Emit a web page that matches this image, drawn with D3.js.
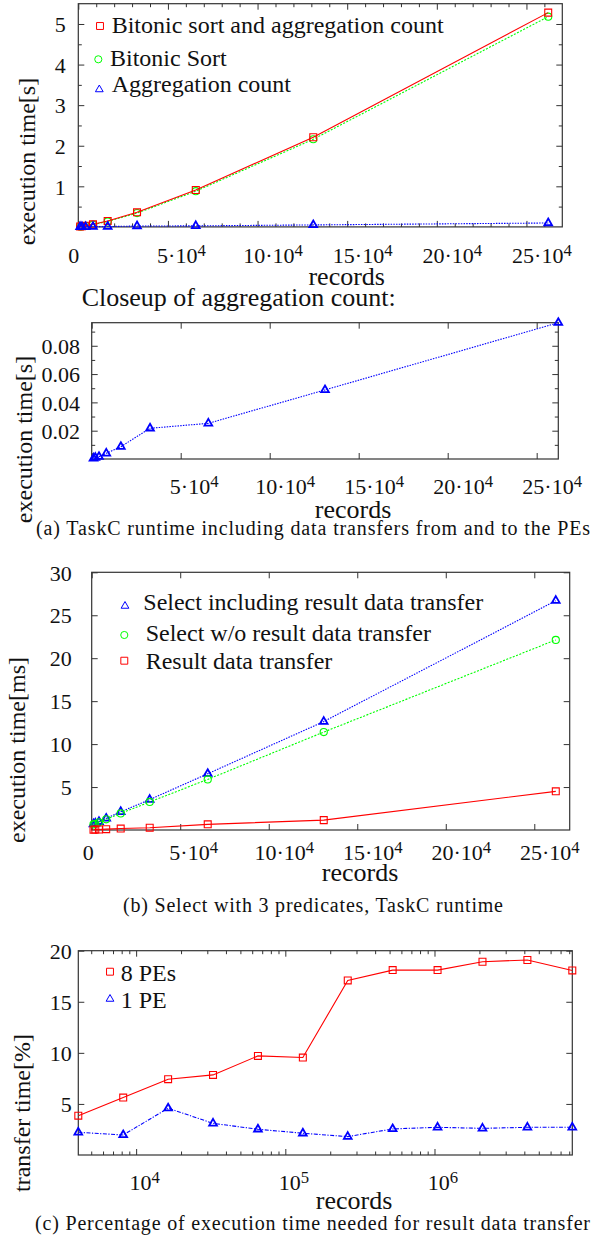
<!DOCTYPE html>
<html>
<head>
<meta charset="utf-8">
<script src="https://cdn.jsdelivr.net/npm/d3@7"></script>
<style>
body { margin: 0; background: #fff; }
svg { display: block; font-family: "Liberation Serif", "Times New Roman", serif; }
.box { fill: none; stroke: #333; stroke-width: 1.2; }
.tick line { stroke: #333; stroke-width: 1; }
text { fill: #111; }
</style>
</head>
<body>
<svg id="chart" width="608" height="1237"></svg>
<script>
// records = 2^10 .. 2^18 (panels a and b)
const records = [1024, 2048, 4096, 8192, 16384, 32768, 65536, 131072, 262144];
// (a) seconds
const bitonicAgg = [0.01, 0.015, 0.03, 0.064, 0.145, 0.36, 0.91, 2.21, 5.28];
const bitonicSort = [0.008, 0.013, 0.025, 0.058, 0.135, 0.34, 0.88, 2.16, 5.18];
const aggCount = [0.0005, 0.001, 0.0016, 0.004, 0.0087, 0.0217, 0.0252, 0.0488, 0.0963];
// (b) milliseconds
const selectIncl = [0.69, 0.77, 0.96, 1.35, 2.12, 3.54, 6.55, 12.62, 26.7];
const selectWo = [0.65, 0.72, 0.9, 1.25, 1.93, 3.27, 5.89, 11.4, 22.13];
const resultTransfer = [0.04, 0.05, 0.06, 0.1, 0.17, 0.27, 0.66, 1.15, 4.5];
// (c) records = 2^12 .. 2^23, percent
const recordsLog = [4096, 8192, 16384, 32768, 65536, 131072, 262144, 524288, 1048576, 2097152, 4194304, 8388608];
const pe8 = [3.85, 5.62, 7.42, 7.84, 9.7, 9.54, 17.09, 18.1, 18.1, 18.92, 19.09, 18.07];
const pe1 = [2.22, 1.96, 4.58, 3.1, 2.52, 2.13, 1.8, 2.55, 2.71, 2.61, 2.71, 2.71];

const svg = d3.select("#chart");
const RED = "#ff0000", GREEN = "#00ff00", BLUE = "#0000ff";

// tick label: "5·10^4" style, parts = [base, superscript]
function supLabel(sel, parts) {
	sel.text(null);
	sel.append("tspan").text(parts[0]);
	if (parts[1]) sel.append("tspan").attr("dy", "-0.42em").attr("font-size", "0.76em").text(parts[1]);
}

function tenK(d) { return d === 0 ? ["0"] : [(d / 1e4) + "\u00b710", "4"]; }

function frame(p) {
	let g = svg.append("g");
	let clean = a => { a.attr("font-family", null).attr("font-size", null); a.select(".domain").remove(); };

	// bottom + top major/minor ticks
	let xb = g.append("g").attr("transform", "translate(0," + p.bottom + ")")
		.call(d3.axisBottom(p.x).tickValues(p.xMajor).tickSizeInner(-6).tickSizeOuter(0));
	clean(xb);
	xb.selectAll("text")
		.attr("font-size", 22)
		.attr("y", p.xTickY - p.bottom).attr("dy", null)
		.attr("dx", d => p.xDx(d))
		.each(function(d) { supLabel(d3.select(this), p.xFmt(d)); });
	if (p.xHideLabel) xb.selectAll("text").filter(p.xHideLabel).remove();
	let xt = g.append("g").attr("transform", "translate(0," + p.top + ")")
		.call(d3.axisTop(p.x).tickValues(p.xMajor).tickSizeInner(-6).tickSizeOuter(0).tickFormat(""));
	clean(xt);
	if (p.xMinor) {
		[[d3.axisBottom, p.bottom], [d3.axisTop, p.top]].forEach(([ax, yy]) => {
			let m = g.append("g").attr("transform", "translate(0," + yy + ")")
				.call(ax(p.x).tickValues(p.xMinor).tickSizeInner(-3.5).tickSizeOuter(0).tickFormat(""));
			clean(m);
		});
	}

	// left + right
	let yl = g.append("g").attr("transform", "translate(" + p.left + ",0)")
		.call(d3.axisLeft(p.y).tickValues(p.yMajor).tickSizeInner(-6).tickSizeOuter(0).tickFormat(p.yFmt));
	clean(yl);
	yl.selectAll("text").attr("font-size", 22).attr("x", p.yTickX - p.left).attr("dy", "0.35em");
	let yr = g.append("g").attr("transform", "translate(" + p.right + ",0)")
		.call(d3.axisRight(p.y).tickValues(p.yMajor).tickSizeInner(-6).tickSizeOuter(0).tickFormat(""));
	clean(yr);
	if (p.yMinor) {
		[[d3.axisLeft, p.left], [d3.axisRight, p.right]].forEach(([ax, xx]) => {
			let m = g.append("g").attr("transform", "translate(" + xx + ",0)")
				.call(ax(p.y).tickValues(p.yMinor).tickSizeInner(-3.5).tickSizeOuter(0).tickFormat(""));
			clean(m);
		});
	}

	g.append("rect").attr("class", "box")
		.attr("x", p.left).attr("y", p.top)
		.attr("width", p.right - p.left).attr("height", p.bottom - p.top);

	// axis titles
	g.append("text")
		.attr("transform", "translate(" + p.yTitle[0] + "," + p.yTitle[1] + ") rotate(-90)")
		.attr("text-anchor", "middle").attr("font-size", 24)
		.text(p.yTitleText);
	g.append("text")
		.attr("x", p.xTitle[0]).attr("y", p.xTitle[1])
		.attr("text-anchor", "middle").attr("font-size", 26)
		.text("records");
	return g;
}

function series(g, x, y, xs, ys, color, dash, symbol, size, sw) {
	let pts = xs.map((d, i) => [d, ys[i]]);
	g.append("path")
		.datum(pts)
		.attr("fill", "none")
		.attr("stroke", color)
		.attr("stroke-width", 1.1)
		.attr("stroke-dasharray", dash)
		.attr("d", d3.line().x(d => x(d[0])).y(d => y(d[1])));
	g.selectAll(null)
		.data(pts)
		.enter()
		.append("path")
		.attr("transform", d => "translate(" + x(d[0]) + "," + y(d[1]) + ")")
		.attr("d", d3.symbol().type(symbol).size(size))
		.attr("fill", "none")
		.attr("stroke", color)
		.attr("stroke-width", sw);
}

function legendItem(g, mx, my, tx, ty, color, symbol, size, label) {
	g.append("path")
		.attr("transform", "translate(" + mx + "," + my + ")")
		.attr("d", d3.symbol().type(symbol).size(size))
		.attr("fill", "none").attr("stroke", color).attr("stroke-width", 1);
	g.append("text").attr("x", tx).attr("y", ty).attr("font-size", 24).text(label);
}

const SQ = 48, CI = 40, TR = 26;
const dash10k = d => d === 0 ? -5 : (d < 1e5 ? 13 : 15);
const major10k = [0, 5e4, 10e4, 15e4, 20e4, 25e4];

// ---------- (a) top: full runtime ----------
{
	let x = d3.scaleLinear().domain([0, 270000]).range([78.3, 562.3]);
	let y = d3.scaleLinear().domain([0, 5.5]).range([226.9, 3.7]);
	let g = frame({
		left: 78.3, right: 562.3, top: 3.7, bottom: 226.9, x: x, y: y,
		xMajor: major10k, xMinor: d3.range(1e4, 27e4, 1e4).filter(d => d % 5e4 !== 0),
		yMajor: [1, 2, 3, 4, 5], yMinor: [0.5, 1.5, 2.5, 3.5, 4.5],
		xFmt: tenK, xDx: dash10k, xTickY: 262.7, yFmt: d3.format("d"), yTickX: 65.7,
		yTitle: [35, 161.5], yTitleText: "execution time[s]", xTitle: [346.7, 285]
	});
	series(g, x, y, records, bitonicSort, GREEN, "2,1.5", d3.symbolCircle, CI, 1.1);
	series(g, x, y, records, bitonicAgg, RED, null, d3.symbolSquare, SQ, 1.1);
	series(g, x, y, records, aggCount, BLUE, "1.5,1.2", d3.symbolTriangle, TR, 1.8);
	legendItem(g, 100, 26, 111.7, 32.7, RED, d3.symbolSquare, SQ, "Bitonic sort and aggregation count");
	legendItem(g, 98.3, 59.3, 110, 66, GREEN, d3.symbolCircle, CI, "Bitonic Sort");
	legendItem(g, 99.3, 89.5, 111.7, 92.3, BLUE, d3.symbolTriangle, TR, "Aggregation count");
}

svg.append("text").attr("x", 238.7).attr("y", 306).attr("text-anchor", "middle")
	.attr("font-size", 26).text("Closeup of aggregation count:");

// ---------- (a) closeup ----------
{
	let x = d3.scaleLinear().domain([0, 262144]).range([91.7, 558.3]);
	let y = d3.scaleLinear().domain([0, d3.max(aggCount)]).range([459, 322.7]);
	let g = frame({
		left: 91.7, right: 558.3, top: 322.7, bottom: 459, x: x, y: y,
		xMajor: major10k, xHideLabel: d => d === 0,
		yMajor: [0.02, 0.04, 0.06, 0.08], yMinor: [0.01, 0.03, 0.05, 0.07, 0.09],
		xFmt: tenK, xDx: dash10k, xTickY: 494, yFmt: d3.format(".2f"), yTickX: 80,
		yTitle: [31.5, 439.5], yTitleText: "execution time[s]", xTitle: [353, 517.5]
	});
	series(g, x, y, records, aggCount, BLUE, "1.5,1.2", d3.symbolTriangle, TR, 1.8);
}

svg.append("text").attr("x", 313).attr("y", 535).attr("text-anchor", "middle")
	.attr("font-size", 20).attr("textLength", 554).attr("lengthAdjust", "spacing")
	.text("(a) TaskC runtime including data transfers from and to the PEs");

// ---------- (b) select ----------
{
	let x = d3.scaleLinear().domain([0, 270000]).range([91.7, 569.7]);
	let y = d3.scaleLinear().domain([0, 30]).range([830, 572.3]);
	let g = frame({
		left: 91.7, right: 569.7, top: 572.3, bottom: 830, x: x, y: y,
		xMajor: major10k,
		yMajor: [5, 10, 15, 20, 25, 30],
		xFmt: tenK, xDx: d => d === 0 ? -4 : (d < 1e5 ? 13 : 15), xTickY: 860, yFmt: d3.format("d"), yTickX: 71.7,
		yTitle: [25, 750], yTitleText: "execution time[ms]", xTitle: [360, 881]
	});
	series(g, x, y, records, selectIncl, BLUE, "1.5,1.2", d3.symbolTriangle, TR, 1.8);
	series(g, x, y, records, selectWo, GREEN, "2,1.5", d3.symbolCircle, CI, 1.1);
	series(g, x, y, records, resultTransfer, RED, null, d3.symbolSquare, SQ, 1.1);
	legendItem(g, 125, 606, 143.3, 610, BLUE, d3.symbolTriangle, TR, "Select including result data transfer");
	legendItem(g, 124.3, 635, 145.7, 640.7, GREEN, d3.symbolCircle, CI, "Select w/o result data transfer");
	legendItem(g, 124.3, 660.7, 145.7, 669, RED, d3.symbolSquare, SQ, "Result data transfer");
}

svg.append("text").attr("x", 313).attr("y", 912).attr("text-anchor", "middle")
	.attr("font-size", 20).attr("textLength", 380).attr("lengthAdjust", "spacing")
	.text("(b) Select with 3 predicates, TaskC runtime");

// ---------- (c) percentage, log x ----------
{
	let x = d3.scaleLog().domain([4096, 8388608]).range([78.3, 572.3]);
	let y = d3.scaleLinear().domain([0, 20]).range([1155, 950.7]);
	let minor = [];
	[1e3, 1e4, 1e5, 1e6].forEach(dec => d3.range(2, 10).forEach(k => {
		let v = k * dec;
		if (v > 4096 && v < 8388608) minor.push(v);
	}));
	let g = frame({
		left: 78.3, right: 572.3, top: 950.7, bottom: 1155, x: x, y: y,
		xMajor: [1e4, 1e5, 1e6], xMinor: minor,
		yMajor: [5, 10, 15, 20],
		xFmt: d => ["10", String(Math.round(Math.log10(d)))], xDx: d => 8, xTickY: 1190,
		yFmt: d3.format("d"), yTickX: 71.7,
		yTitle: [30, 1113], yTitleText: "transfer time[%]", xTitle: [354, 1208.5]
	});
	series(g, x, y, recordsLog, pe8, RED, null, d3.symbolSquare, SQ, 1.1);
	series(g, x, y, recordsLog, pe1, BLUE, "4,1.5,1.2,1.5", d3.symbolTriangle, TR, 1.8);
	legendItem(g, 110, 971.7, 120.7, 980.7, RED, d3.symbolSquare, SQ, "8 PEs");
	legendItem(g, 110, 999, 120.7, 1008.3, BLUE, d3.symbolTriangle, TR, "1 PE");
}

svg.append("text").attr("x", 312.5).attr("y", 1230).attr("text-anchor", "middle")
	.attr("font-size", 20).attr("textLength", 555).attr("lengthAdjust", "spacing")
	.text("(c) Percentage of execution time needed for result data transfer");
</script>
</body>
</html>
